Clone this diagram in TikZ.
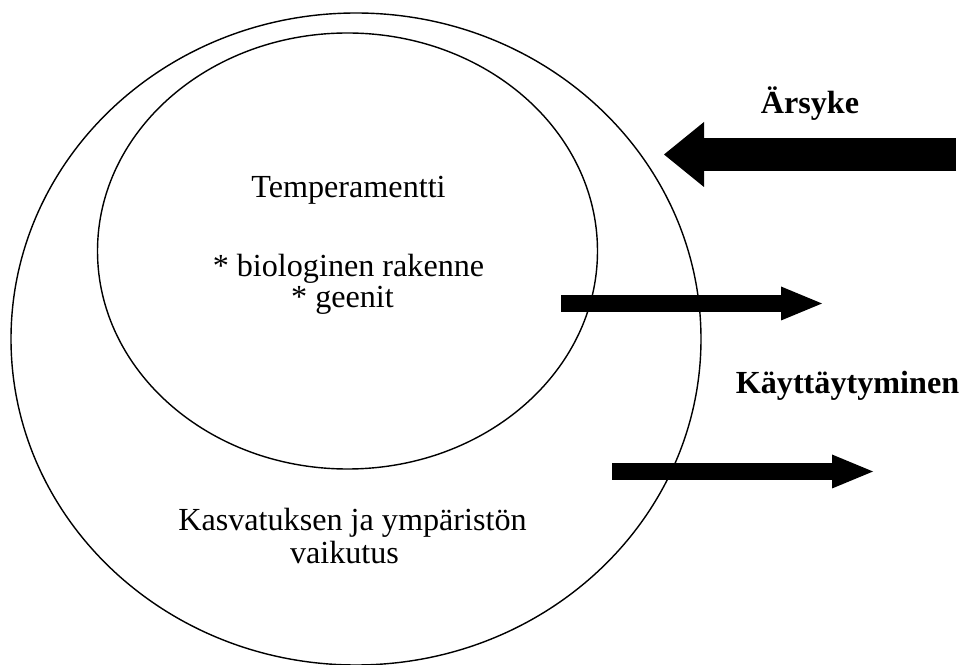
\documentclass[tikz,border=0pt]{standalone}
\usepackage{fontspec}
\setmainfont{Liberation Serif}
\usetikzlibrary{arrows.meta}

\begin{document}
\begin{tikzpicture}[
    txt/.style={anchor=base,inner sep=0pt,font=\fontsize{18.3}{22}\selectfont},
    boldtxt/.style={txt,font=\fontsize{18.3}{22}\selectfont\bfseries},
    bigarrow/.style={line width=0.66cm,-{Triangle[length=0.8cm,width=1.3cm,line width=0pt]}},
    smallarrow/.style={line width=0.34cm,-{Triangle[length=0.82cm,width=0.68cm,line width=0pt]}}]
  \useasboundingbox (0,0) rectangle (19.3,13.3);
  % ympyrat
  \draw[line width=0.8pt] (7.12,6.52) ellipse [x radius=6.9cm, y radius=6.52cm];
  \draw[line width=0.8pt] (6.95,8.28) ellipse [x radius=5cm, y radius=4.36cm];
  % tekstit
  \node[txt] (temp) at (6.97,9.34) {Temperamentti};
  \node[txt] (bio) at (6.97,7.76) {* biologinen rakenne};
  \node[txt] (geen) at (6.85,7.14) {* geenit};
  \node[txt] (kasv) at (7.05,2.68) {Kasvatuksen ja ympäristön};
  \node[txt] (vaik) at (6.89,2.02) {vaikutus};
  \node[boldtxt] (arsyke) at (16.2,11.02) {Ärsyke};
  \node[boldtxt] (kaytt) at (16.95,5.42) {Käyttäytyminen};
  % nuolet
  \coordinate (a1) at (19.12,10.21);
  \coordinate (b1) at (13.28,10.21);
  \coordinate (a2) at (11.22,7.23);
  \coordinate (b2) at (16.44,7.23);
  \coordinate (a3) at (12.24,3.87);
  \coordinate (b3) at (17.46,3.87);
  \draw[bigarrow] (a1) -- (b1);
  \draw[smallarrow] (a2) -- (b2);
  \draw[smallarrow] (a3) -- (b3);
\end{tikzpicture}
\end{document}
